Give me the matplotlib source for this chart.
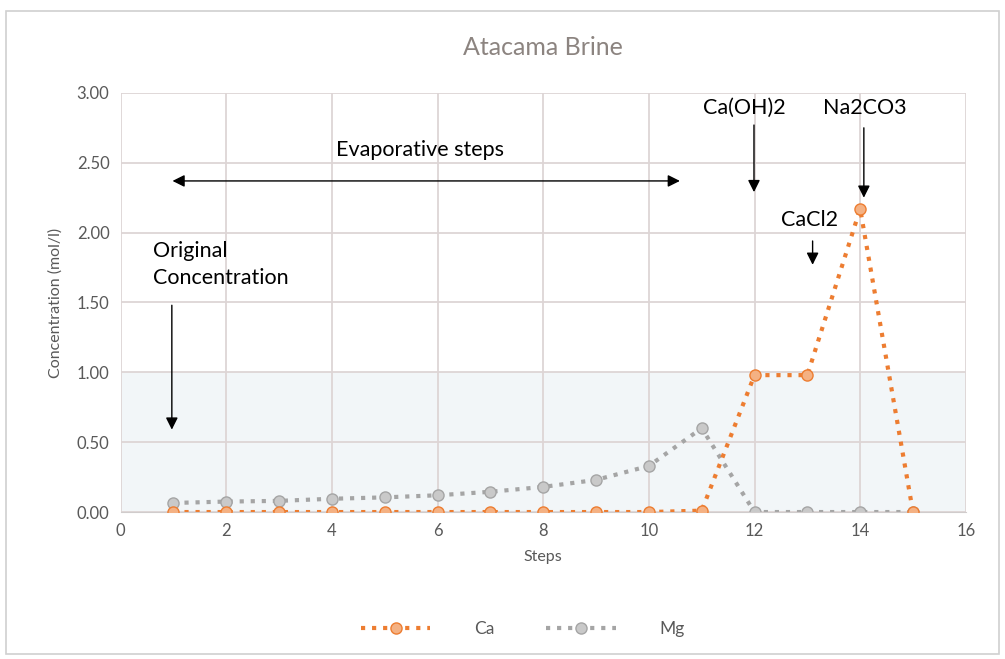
import matplotlib
matplotlib.use("Agg")
import matplotlib.pyplot as plt
from matplotlib.patches import Rectangle

steps = [1, 2, 3, 4, 5, 6, 7, 8, 9, 10, 11, 12, 13, 14, 15]
ca = [0.0, 0.0, 0.0, 0.0, 0.0, 0.0, 0.0, 0.0, 0.0, 0.0, 0.01, 0.98, 0.98, 2.17, 0.0]
mg = [0.065, 0.075, 0.08, 0.095, 0.105, 0.12, 0.145, 0.18, 0.23, 0.33, 0.60, 0.0, 0.0, 0.0, 0.0]

plt.rcParams["font.family"] = ["Lato", "DejaVu Sans"]
GREY = "#595959"

fig = plt.figure(figsize=(10.05, 6.59), dpi=100)
fig.patches.append(Rectangle((0.006, 0.008), 0.988, 0.975, transform=fig.transFigure,
                             fill=False, edgecolor="#d0d0d0", linewidth=1.2))
ax = fig.add_axes([0.120, 0.223, 0.841, 0.636])

ax.axhspan(0, 1.0, color="#f2f6f8", zorder=0, linewidth=0)
ax.plot(steps, ca, linestyle=":", color="#ED7D31", linewidth=3,
        marker="o", markersize=8, markerfacecolor="#F4B183",
        markeredgecolor="#ED7D31", markeredgewidth=1, label="Ca", zorder=3)
ax.plot(steps, mg, linestyle=":", color="#A5A5A5", linewidth=3,
        marker="o", markersize=8, markerfacecolor="#C9C9C9",
        markeredgecolor="#A5A5A5", markeredgewidth=1, label="Mg", zorder=2)

ax.set_xlim(0, 16)
ax.set_ylim(0, 3)
ax.set_xticks(range(0, 17, 2))
ax.set_yticks([0, 0.5, 1.0, 1.5, 2.0, 2.5, 3.0])
ax.set_yticklabels([f"{v:.2f}" for v in ax.get_yticks()])
ax.grid(True, color="#ddd5d5", linewidth=1.3)
ax.set_axisbelow(True)
for s in ax.spines.values():
    s.set_visible(False)
ax.spines["bottom"].set_visible(True)
ax.spines["bottom"].set_color("#d0cccc")
ax.tick_params(length=0, labelsize=12, colors=GREY, pad=8)
ax.set_xlabel("Steps", fontsize=11.5, color=GREY, labelpad=8)
ax.set_ylabel("Concentration (mol/l)", fontsize=11.5, color=GREY, labelpad=10)
ax.set_title("Atacama Brine", fontsize=18, color="#8c8480", pad=27)

arrow = dict(arrowstyle="-|>", color="black", lw=1, mutation_scale=18)
ax.annotate("", xy=(10.64, 2.37), xytext=(0.93, 2.37),
            arrowprops=dict(arrowstyle="<|-|>", color="black", lw=1, mutation_scale=18))
ax.text(5.66, 2.59, "Evaporative steps", fontsize=15.5, ha="center", va="center")
ax.text(0.62, 1.77, "Original\nConcentration", fontsize=15.5, ha="left", va="center",
        linespacing=1.45)
ax.annotate("", xy=(0.97, 0.57), xytext=(0.97, 1.50), arrowprops=arrow)
ax.text(11.8, 2.89, "Ca(OH)2", fontsize=15.5, ha="center", va="center")
ax.annotate("", xy=(11.99, 2.27), xytext=(11.99, 2.79), arrowprops=arrow)
ax.text(14.09, 2.89, "Na2CO3", fontsize=15.5, ha="center", va="center")
ax.annotate("", xy=(14.07, 2.23), xytext=(14.07, 2.77), arrowprops=arrow)
ax.text(13.05, 2.09, "CaCl2", fontsize=15.5, ha="center", va="center")
ax.annotate("", xy=(13.1, 1.75), xytext=(13.1, 1.96), arrowprops=arrow)

leg = fig.legend(loc="center", bbox_to_anchor=(0.52, 0.045), ncol=2, frameon=False,
                 fontsize=12.5, handlelength=4, columnspacing=3, handletextpad=2.5)
for t in leg.get_texts():
    t.set_color(GREY)

fig.savefig("out.png", dpi=100)
